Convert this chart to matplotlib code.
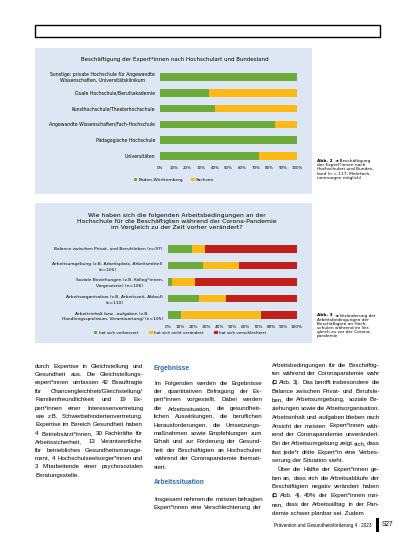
import matplotlib
matplotlib.use('Agg')
import matplotlib.pyplot as plt
from matplotlib.patches import Rectangle
from matplotlib.font_manager import FontProperties
import numpy as np

# ---------------- data ----------------
title1 = "Beschäftigung der Expert*innen nach Hochschulart und Bundesland"
cat1 = ["Sonstige: private Hochschule für Angewandte\nWissenschaften, Universitätsklinikum",
        "Duale Hochschule/Berufsakademie",
        "Kunsthochschule/Theaterhochschule",
        "Angewandte Wissenschaften/Fach-Hochschule",
        "Pädagogische Hochschule",
        "Universitäten"]
bw = [100, 36, 40, 84, 100, 72]
sachsen = [0, 64, 60, 16, 0, 28]
legend1 = ["Baden-Württemberg", "Sachsen"]

title2 = ("Wie haben sich die folgenden Arbeitsbedingungen an der\n"
          "Hochschule für die Beschäftigten während der Corona-Pandemie\n"
          "im Vergleich zu der Zeit vorher verändert?")
cat2 = ["Balance zwischen Privat- und Berufsleben (n=97)",
        "Arbeitsumgebung (z.B. Arbeitsplatz, Arbeitsmittel)\n(n=105)",
        "Soziale Beziehungen (z.B. Kolleg*innen,\nVorgesetzte) (n=106)",
        "Arbeitsorganisation (z.B. Arbeitszeit, Ablauf)\n(n=110)",
        "Arbeitsinhalt bzw. -aufgaben (z.B.\nHandlungsspielraum, Verantwortung) (n=105)"]
verbessert = [19, 27, 3, 24, 10]
nicht_veraendert = [10, 28, 18, 21, 62]
verschlechtert = [71, 45, 79, 55, 28]
legend2 = ["hat sich verbessert", "hat sich nicht verändert", "hat sich verschlechtert"]

xticks = list(range(0, 101, 10))
xticklabels = [f"{v}%" for v in xticks]

cap2 = ["Abb. 2 ◄ Beschäftigung", "der Expert*innen nach", "Hochschulart und Bundes-",
        "land (n = 117; Mehrfach-", "nennungen möglich)"]
cap3 = ["Abb. 3 ◄ Veränderung der", "Arbeitsbedingungen der", "Beschäftigten an Hoch-",
        "schulen während im Ver-", "gleich zu vor der Corona-", "pandemie"]

col1 = ["durch Expertise in Gleichstellung und",
        "Gesundheit aus. Die Gleichstellungs-",
        "expert*innen umfassen 42 Beauftragte",
        "für Chancengleichheit/Gleichstellung/",
        "Familienfreundlichkeit und 19 Ex-",
        "pert*innen einer Interessenvertretung",
        "wie z.B. Schwerbehindertenvertretung.",
        "Expertise im Bereich Gesundheit haben",
        "4 Betriebsärzt*innen, 30 Fachkräfte für",
        "Arbeitssicherheit, 13 Verantwortliche",
        "für betriebliches Gesundheitsmanage-",
        "ment, 4 Hochschulseelsorger*innen und",
        "3 Mitarbeitende einer psychosozialen",
        "Beratungsstelle."]
col2a = ["Im Folgenden werden die Ergebnisse",
         "der quantitativen Befragung der Ex-",
         "pert*innen vorgestellt. Dabei werden",
         "die Arbeitssituation, die gesundheit-",
         "lichen Auswirkungen, die beruflichen",
         "Herausforderungen, die Umsetzungs-",
         "maßnahmen sowie Empfehlungen zum",
         "Erhalt und zur Förderung der Gesund-",
         "heit der Beschäftigten an Hochschulen",
         "während der Coronapandemie themati-",
         "siert."]
col2b = ["Insgesamt nehmen die meisten befragten",
         "Expert*innen eine Verschlechterung der"]
col3 = ["Arbeitsbedingungen für die Beschäftig-",
        "ten während der Coronapandemie wahr",
        "(◘ Abb. 3). Das betrifft insbesondere die",
        "Balance zwischen Privat- und Berufsle-",
        "ben, die Arbeitsumgebung, soziale Be-",
        "ziehungen sowie die Arbeitsorganisation.",
        "Arbeitsinhalt und -aufgaben blieben nach",
        "Ansicht der meisten Expert*innen wäh-",
        "rend der Coronapandemie unverändert.",
        "Bei der Arbeitsumgebung zeigt sich, dass",
        "fast jede*r dritte Expert*in eine Verbes-",
        "serung der Situation sieht.",
        "Über die Hälfte der Expert*innen ge-",
        "ben an, dass sich die Arbeitsabläufe der",
        "Beschäftigten negativ verändert haben",
        "(◘ Abb. 4). 40% der Expert*innen mei-",
        "nen, dass der Arbeitsalltag in der Pan-",
        "demie schwer planbar sei. Zudem"]
footer = "Prävention und Gesundheitsförderung 4 · 2023"
page = "S27"

# ---------------- style ----------------
GREEN, YELLOW, RED = '#6EAB3D', '#FBBA16', '#C0201A'
PANEL = '#DDE7F3'
BLUE = '#2A6BB0'
CH = ['DejaVu Sans']
BODY = ['Liberation Sans', 'DejaVu Sans']

W, H = 413, 550
fig = plt.figure(figsize=(W / 100, H / 100), dpi=100)
fig.patch.set_facecolor('white')
renderer = fig.canvas.get_renderer()


def fx(x):
    return x / W


def fy(y):
    return 1 - y / H


def add_ax(x0, y0, x1, y1):
    ax = fig.add_axes([fx(x0), fy(y1), (x1 - x0) / W, (y1 - y0) / H])
    ax.set_facecolor('none')
    for s in ax.spines.values():
        s.set_visible(False)
    return ax


def rect(x0, y0, x1, y1, **kw):
    r = Rectangle((fx(x0), fy(y1)), (x1 - x0) / W, (y1 - y0) / H,
                  transform=fig.transFigure, **kw)
    fig.add_artist(r)


def text_w(s, fp):
    w, h, d = renderer.get_text_width_height_descent(s, fp, ismath=False)
    return w


# top outline box
rect(35, 25, 380, 37, facecolor='none', edgecolor='black', linewidth=1.0, zorder=1)
# panels
rect(35, 48, 312, 194, facecolor=PANEL, edgecolor='none', zorder=-5)
rect(35, 203, 312, 343, facecolor=PANEL, edgecolor='none', zorder=-5)

# ---------------- chart 1 ----------------
ax1 = add_ax(160, 69, 297, 164)
y1 = np.arange(len(cat1))
ax1.barh(y1, bw, height=0.49, color=GREEN, label=legend1[0])
ax1.barh(y1, sachsen, left=bw, height=0.49, color=YELLOW, label=legend1[1])
ax1.set_xlim(0, 100)
ax1.set_ylim(len(cat1) - 0.5, -0.5)
ax1.set_xticks(xticks)
ax1.set_xticklabels(xticklabels, fontsize=2.9, family=CH)
ax1.set_yticks(y1)
ax1.set_yticklabels(cat1, fontsize=3.3, family=CH, multialignment='center', linespacing=1.0)
ax1.tick_params(axis='x', length=0, pad=1.4)
ax1.tick_params(axis='y', length=0, pad=3.6)
fig.text(fx(175), fy(60), title1, ha='center', va='center', fontsize=4.0, family=CH)
ax1.legend(loc='center', bbox_to_anchor=(fx(174), fy(180)), bbox_transform=fig.transFigure,
           ncol=2, frameon=False, prop={'size': 3.2, 'family': CH}, handlelength=0.8,
           handleheight=0.8, handletextpad=0.3, columnspacing=1.8, borderpad=0)

# ---------------- chart 2 ----------------
ax2 = add_ax(167.7, 240.75, 296.7, 323.25)
y2 = np.arange(len(cat2))
left2 = np.array(verbessert)
ax2.barh(y2, verbessert, height=0.44, color=GREEN, label=legend2[0])
ax2.barh(y2, nicht_veraendert, left=left2, height=0.44, color=YELLOW, label=legend2[1])
ax2.barh(y2, verschlechtert, left=left2 + np.array(nicht_veraendert), height=0.44,
         color=RED, label=legend2[2])
ax2.set_xlim(0, 100)
ax2.set_ylim(len(cat2) - 0.5, -0.5)
ax2.set_xticks(xticks)
ax2.set_xticklabels(xticklabels, fontsize=3.1, family=CH)
ax2.set_yticks(y2)
ax2.set_yticklabels(cat2, fontsize=3.2, family=CH, multialignment='center', linespacing=1.55)
ax2.tick_params(axis='x', length=0, pad=1.3)
ax2.tick_params(axis='y', length=0, pad=3.6)
fig.text(fx(177), fy(222), title2, ha='center', va='center', fontsize=4.4, family=CH,
         linespacing=1.25)
ax2.legend(loc='center', bbox_to_anchor=(fx(180), fy(333)), bbox_transform=fig.transFigure,
           ncol=3, frameon=False, prop={'size': 3.0, 'family': CH}, handlelength=0.8,
           handleheight=0.8, handletextpad=0.3, columnspacing=2.7, borderpad=0)

# ---------------- captions ----------------
fp_cap = FontProperties(family=CH, size=3.1)
fp_capb = FontProperties(family=CH, size=3.1, weight='bold')


def caption(lines, x, y0, dy):
    for i, ln in enumerate(lines):
        y = y0 + i * dy
        if i == 0:
            parts = ln.split(' ')
            head = parts[0] + ' ' + parts[1]
            rest = ' '.join(parts[2:])
            fig.text(fx(x), fy(y), head, fontproperties=fp_capb, va='center', ha='left')
            wd = text_w(head + ' ', fp_capb)
            fig.text(fx(x + wd + 0.8), fy(y), rest, fontproperties=fp_cap, va='center', ha='left')
        else:
            fig.text(fx(x), fy(y), ln, fontproperties=fp_cap, va='center', ha='left')


caption(cap2, 316.7, 161, 4.25)
caption(cap3, 316.7, 315.5, 4.2)

# ---------------- body text ----------------
COLW = 108.0
all_lines = col1[:-1] + col2a[:-1] + col2b + col3
fp_test = FontProperties(family=BODY, size=4.0)
nat = sorted(text_w(l, fp_test) for l in all_lines)
body_size = 4.0 * COLW / nat[int(0.9 * (len(nat) - 1))]
fp_body = FontProperties(family=BODY, size=body_size)


def put_line(x0, width, y, line, fp, justify=True, indent=0.0):
    words = line.split(' ')
    xs = x0 + indent
    avail = width - indent
    if not justify or len(words) == 1:
        fig.text(fx(xs), fy(y + 1.6), line, fontproperties=fp, va='baseline', ha='left')
        return
    ws = [text_w(w_, fp) for w_ in words]
    gap = (avail - sum(ws)) / (len(words) - 1)
    gap = max(gap, 0.9)
    x = xs
    for w_, wd in zip(words, ws):
        col = BLUE if w_.startswith('(◘') or w_ in ('Abb.',) else 'black'
        fig.text(fx(x), fy(y + 1.6), w_, fontproperties=fp, va='baseline', ha='left',
                 color='black')
        x += wd + gap


def column(lines, x0, width, y0, dy, last_free=(), indents=None):
    for i, ln in enumerate(lines):
        ind = indents.get(i, 0.0) if indents else 0.0
        put_line(x0, width, y0 + i * dy, ln, fp_body, justify=(i not in last_free), indent=ind)


column(col1, 35, COLW, 366, 8.4, last_free={len(col1) - 1})
fig.text(fx(154), fy(368), "Ergebnisse", fontsize=4.8, family=BODY, weight='bold',
         color=BLUE, va='center', ha='left')
column(col2a, 154, COLW, 383, 8.4, last_free={len(col2a) - 1})
fig.text(fx(154), fy(483), "Arbeitssituation", fontsize=4.8, family=BODY, weight='bold',
         color=BLUE, va='center', ha='left')
column(col2b, 154, COLW, 499, 8.4)
column(col3, 271.5, COLW, 365, 8.7, last_free={11, len(col3) - 1}, indents={12: 6.0})

# ---------------- footer ----------------
fig.text(fx(372), fy(525), footer, fontsize=3.3, family=BODY, va='center', ha='right')
rect(376, 518, 378.5, 532, facecolor='black', edgecolor='none')
fig.text(fx(381.5), fy(525), page, fontsize=4.8, family=BODY, va='center', ha='left')

fig.savefig('out.png', dpi=100, facecolor='white')
